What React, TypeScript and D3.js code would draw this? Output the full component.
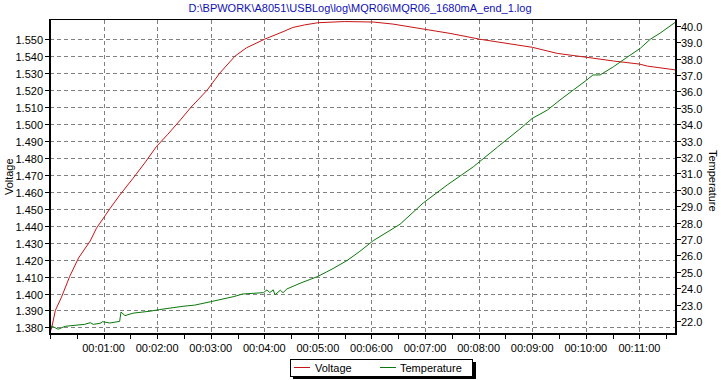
import React from "react";
import * as d3 from "d3";

const TITLE = "D:\\BPWORK\\A8051\\USBLog\\log\\MQR06\\MQR06_1680mA_end_1.log";

// time in seconds
const voltageTime = [0, 2, 6, 13, 22, 32, 45, 52, 67, 78, 93, 106, 119, 132, 146, 158, 176, 190, 207, 220, 240, 261, 272, 285, 300, 330, 362, 384, 420, 448, 482, 540, 568, 601, 631, 660, 669, 701];
const voltageValues = [1.377, 1.38, 1.39, 1.398, 1.41, 1.421, 1.431, 1.4385, 1.45, 1.458, 1.468, 1.477, 1.4866, 1.494, 1.5024, 1.51, 1.52, 1.53, 1.54, 1.545, 1.55, 1.5545, 1.557, 1.5585, 1.5598, 1.5605, 1.5602, 1.559, 1.5559, 1.5535, 1.55, 1.5453, 1.5417, 1.5394, 1.5372, 1.5354, 1.5342, 1.5319];

const tempTime = [0, 2, 3.4, 9, 17, 39, 45, 48.5, 56, 59, 67, 78, 79.5, 84, 93, 112, 123, 149, 162, 180, 205, 216, 239, 243, 246, 250, 252, 258, 261, 265, 280, 300, 317, 333, 347, 362, 392, 418, 445, 474, 501, 526, 540, 557, 571, 586, 601, 608, 616, 631, 646, 661, 672, 683, 701];
const tempValues = [21.4, 21.7, 21.66, 21.5, 21.68, 21.8, 21.9, 21.8, 21.86, 21.96, 21.88, 21.98, 22.55, 22.33, 22.48, 22.6, 22.7, 22.9, 22.97, 23.18, 23.48, 23.65, 23.73, 23.9, 23.73, 23.9, 23.6, 23.88, 23.72, 23.95, 24.3, 24.72, 25.2, 25.7, 26.25, 26.9, 27.9, 29.2, 30.3, 31.4, 32.6, 33.7, 34.35, 34.86, 35.47, 36.08, 36.69, 37.0, 37.0, 37.5, 38.07, 38.62, 39.17, 39.54, 40.24];

const xTickMinutes = [1, 2, 3, 4, 5, 6, 7, 8, 9, 10, 11];
const voltageTicks = [1.38, 1.39, 1.4, 1.41, 1.42, 1.43, 1.44, 1.45, 1.46, 1.47, 1.48, 1.49, 1.5, 1.51, 1.52, 1.53, 1.54, 1.55];
const tempTicks = [22, 23, 24, 25, 26, 27, 28, 29, 30, 31, 32, 33, 34, 35, 36, 37, 38, 39, 40];

const W = 721, H = 380;
const L = 50, R = 676, T = 19.5, B = 334;
const FONT = "'Liberation Sans', Arial, sans-serif";
const RED = "#c81414";
const GREEN = "#0b780b";

const fmtTime = (s: number) => {
  const h = Math.floor(s / 3600), m = Math.floor((s % 3600) / 60), sec = s % 60;
  const p = (n: number) => String(n).padStart(2, "0");
  return `${p(h)}:${p(m)}:${p(sec)}`;
};

export default function App() {
  const x = d3.scaleLinear().domain([0, 701]).range([L, R]);
  const yV = d3.scaleLinear().domain([1.3761, 1.5617]).range([B, T]);
  const yT = d3.scaleLinear().domain([21.21, 40.38]).range([B, T]);

  const vLine = d3.line<number>().x((d, i) => x(voltageTime[i])).y((d) => yV(d))(voltageValues) || "";
  const tLine = d3.line<number>().x((d, i) => x(tempTime[i])).y((d) => yT(d))(tempValues) || "";

  const minorTicks = d3.range(0, 701, 30);

  return (
    <svg width={W} height={H} style={{ position: "absolute", left: 0, top: 0, background: "#fff" }} fontFamily={FONT}>
      <rect x={0} y={0} width={W} height={H} fill="#fff" />
      <text x={360} y={11.5} textAnchor="middle" fontSize={11} fill="#1010b4">{TITLE}</text>

      {/* grid */}
      <g stroke="#808080" strokeWidth={1} strokeDasharray="4,3" shapeRendering="crispEdges">
        {voltageTicks.map((v) => (
          <line key={"h" + v} x1={L} x2={R} y1={Math.round(yV(v)) + 0.5} y2={Math.round(yV(v)) + 0.5} />
        ))}
        {xTickMinutes.map((m) => (
          <line key={"v" + m} x1={Math.round(x(m * 60)) + 0.5} x2={Math.round(x(m * 60)) + 0.5} y1={T} y2={B} />
        ))}
      </g>

      <path d={vLine} fill="none" stroke={RED} strokeWidth={1} />
      <path d={tLine} fill="none" stroke={GREEN} strokeWidth={1} />

      {/* frame */}
      <line x1={L} x2={R} y1={T} y2={T} stroke="#000" strokeWidth={1} shapeRendering="crispEdges" />
      <line x1={L} x2={L} y1={T - 0.5} y2={B + 1} stroke="#000" strokeWidth={2} shapeRendering="crispEdges" />
      <line x1={R} x2={R} y1={T - 0.5} y2={B + 1} stroke="#000" strokeWidth={2} shapeRendering="crispEdges" />
      <line x1={L - 1} x2={R + 1} y1={B} y2={B} stroke="#000" strokeWidth={2} shapeRendering="crispEdges" />

      {/* left axis */}
      <g fontSize={11} fill="#000">
        {voltageTicks.map((v) => {
          const y = Math.round(yV(v)) + 0.5;
          return (
            <g key={"lv" + v}>
              <line x1={45} x2={L} y1={y} y2={y} stroke="#000" shapeRendering="crispEdges" />
              <text x={43} y={y + 4} textAnchor="end">{v.toFixed(3)}</text>
            </g>
          );
        })}
      </g>
      {/* right axis */}
      <g fontSize={11} fill="#000">
        {tempTicks.map((v) => {
          const y = Math.round(yT(v)) + 0.5;
          return (
            <g key={"rt" + v}>
              <line x1={R} x2={R + 5} y1={y} y2={y} stroke="#000" shapeRendering="crispEdges" />
              <text x={681} y={y + 4} textAnchor="start">{v.toFixed(1)}</text>
            </g>
          );
        })}
      </g>
      {/* bottom axis */}
      <g fontSize={11} fill="#000">
        {minorTicks.map((s) => (
          <line key={"mt" + s} x1={Math.round(x(s)) + 0.5} x2={Math.round(x(s)) + 0.5} y1={B} y2={B + 5} stroke="#000" shapeRendering="crispEdges" />
        ))}
        {xTickMinutes.map((m) => (
          <text key={"xl" + m} x={x(m * 60)} y={352} textAnchor="middle">{fmtTime(m * 60)}</text>
        ))}
      </g>

      <text transform={`translate(13,${(T + B) / 2}) rotate(-90)`} textAnchor="middle" fontSize={11} fill="#000">Voltage</text>
      <text transform={`translate(709,${(T + B) / 2 + 4}) rotate(90)`} textAnchor="middle" fontSize={11} fill="#000">Temperature</text>

      {/* legend */}
      <rect x={293} y={362} width={183} height={17} fill="#000" />
      <rect x={290.5} y={359.5} width={182} height={17} fill="#fff" stroke="#000" strokeWidth={1} />
      <line x1={294} x2={310} y1={367.5} y2={367.5} stroke={RED} strokeWidth={1} />
      <text x={315} y={372} fontSize={11} fill="#000">Voltage</text>
      <line x1={380} x2={396} y1={367.5} y2={367.5} stroke={GREEN} strokeWidth={1} />
      <text x={400} y={372} fontSize={11} fill="#000">Temperature</text>
    </svg>
  );
}
